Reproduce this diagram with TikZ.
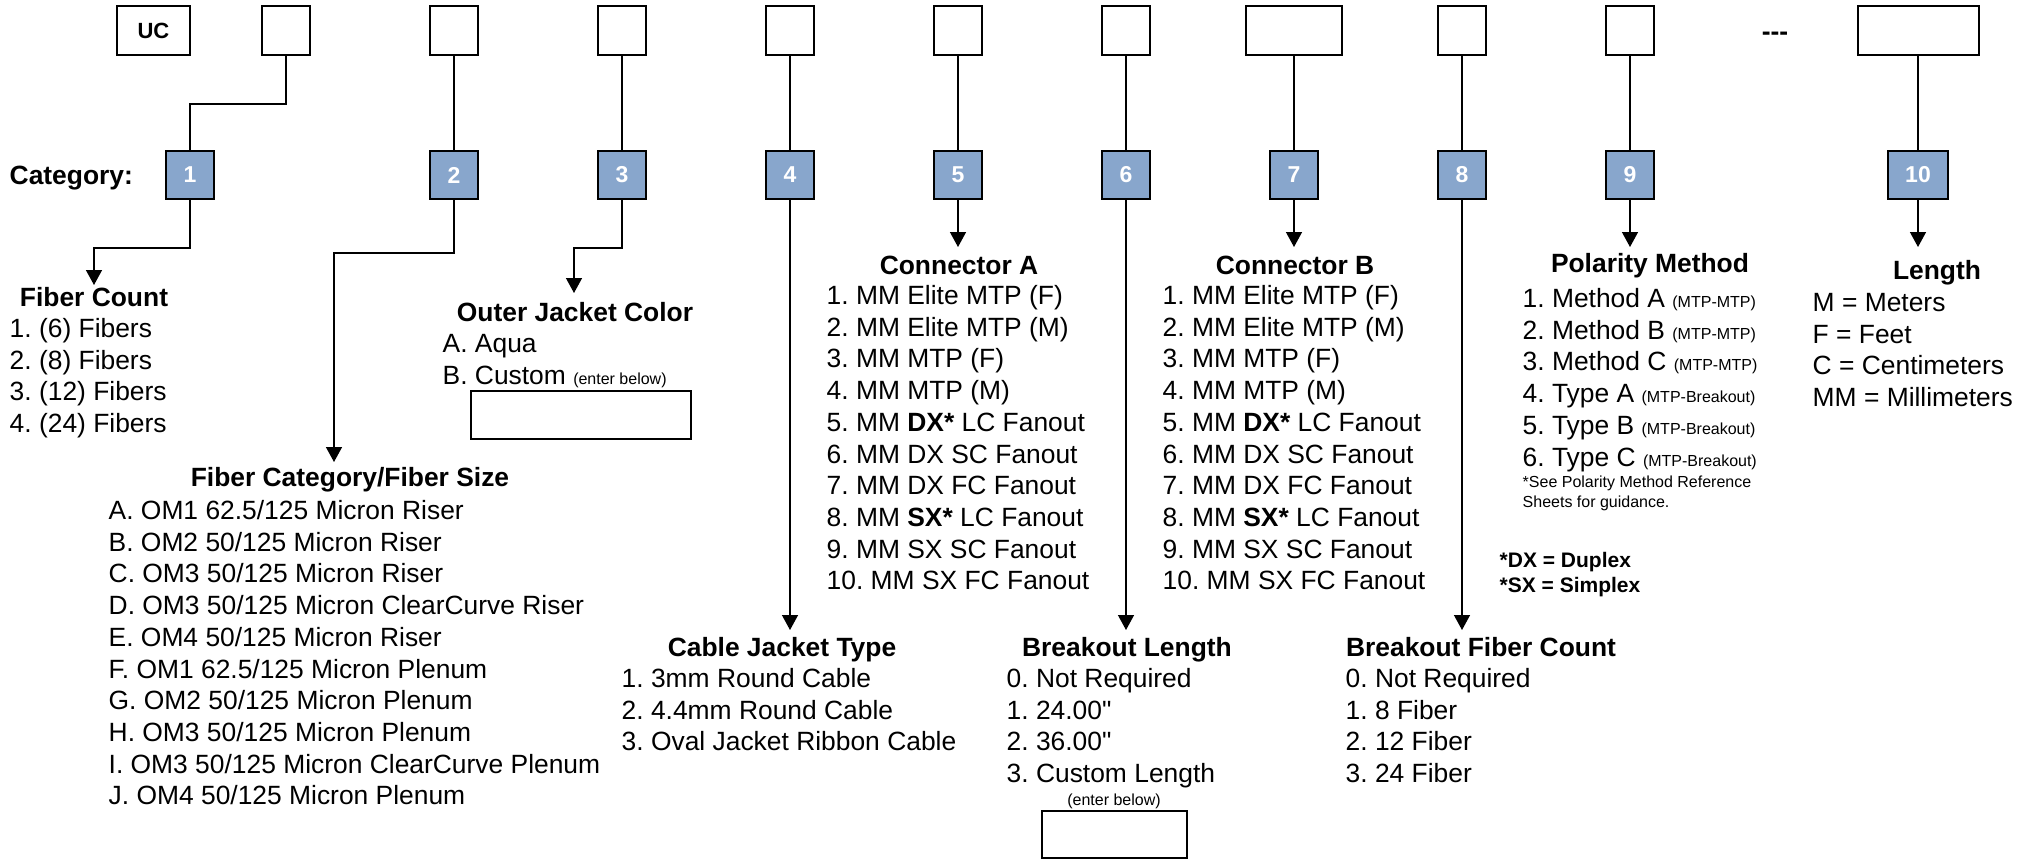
\documentclass[tikz,border=0pt]{standalone}
\usepackage{fontspec}
\setmainfont{Liberation Sans}
\setmonofont{Liberation Sans}
\usetikzlibrary{arrows.meta}
\definecolor{catblue}{RGB}{136,166,204}
\frenchspacing
\tikzset{every picture/.style={line width=0.7pt}}
\tikzset{
  slot/.style={draw,line width=1pt,inner sep=0pt,minimum width=24pt,minimum height=24.5pt},
  cat/.style={slot,fill=catblue,minimum height=24pt,text=white,font=\fontsize{11.5}{13}\selectfont\bfseries},
  head/.style={inner sep=0pt,text height=9.5pt,text depth=0pt,font=\fontsize{13.2}{16}\selectfont\bfseries},
  item/.style={anchor=west,inner sep=0pt,text height=9.5pt,text depth=0pt,font=\fontsize{13.2}{16}\selectfont},
  note/.style={anchor=west,inner sep=0pt,text height=5.7pt,text depth=0pt,font=\fontsize{8}{10}\selectfont},
  abbr/.style={anchor=west,inner sep=0pt,text height=7.5pt,text depth=0pt,font=\fontsize{10.5}{12}\selectfont\bfseries},
  entry/.style={draw,line width=1pt,inner sep=0pt},
}
\newcommand{\sm}[1]{{\fontsize{8}{10}\selectfont #1}}
\newcommand{\inch}{{\ttfamily"}}

\begin{document}
\begin{tikzpicture}[x=0.5pt,y=-0.5pt,>={Triangle[width=8pt,length=7.5pt]}]
\useasboundingbox (0,0) rectangle (2026,859);

% part number slots
\node[slot,minimum width=36.5pt,font=\fontsize{11}{13}\selectfont\bfseries] (uc) at (153.5,30.5) {UC};
\foreach \i/\x in {1/286,2/454,3/622,4/790,5/958,6/1126,8/1462,9/1630}
  \node[slot] (t\i) at (\x,30.5) {};
\node[slot,minimum width=48pt] (t7) at (1294,30.5) {};
\node[head] (dash) at (1775,31) {-{}-{}-};
\node[slot,minimum width=60.5pt] (t10) at (1918,30.5) {};

% category boxes
\node[head,anchor=west] (catlbl) at (9,175) {Category:};
\node[cat] (c1) at (190,175) {1};
\foreach \i/\x in {2/454,3/622,4/790,5/958,6/1126,7/1294,8/1462,9/1630}
  \node[cat] (c\i) at (\x,175) {\i};
\node[cat,minimum width=30pt] (c10) at (1918,175) {10};

\draw (t1.south) -- ++(0,48) -| (c1.north);
\foreach \i in {2,...,10}
  \draw (t\i) -- (c\i);

% arrow ends
\coordinate (e1) at (94,285);
\coordinate (e2) at (334,462);
\coordinate (e3) at (574,293);
\coordinate (e4) at (790,630);
\coordinate (e5) at (958,247);
\coordinate (e6) at (1126,630);
\coordinate (e7) at (1294,247);
\coordinate (e8) at (1462,630);
\coordinate (e9) at (1630,247);
\coordinate (e10) at (1918,247);

\draw[->] (c1.south) -- ++(0,48) -| (e1);
\draw[->] (c2.south) -- ++(0,53) -| (e2);
\draw[->] (c3.south) -- ++(0,48) -| (e3);
\foreach \i in {4,...,10}
  \draw[->] (c\i) -- (e\i);

% 1
\node[head] (fc) at (94,297) {Fiber Count};
\foreach \txt [count=\k] in {{1. (6) Fibers},{2. (8) Fibers},{3. (12) Fibers},{4. (24) Fibers}}
  \node[item] (fc\k) at (9,296.3+31.7*\k) {\txt};

% 2
\node[head] (fs) at (350,477) {Fiber Category/Fiber Size};
\foreach \txt [count=\k] in {{A. OM1 62.5/125 Micron Riser},{B. OM2 50/125 Micron Riser},
    {C. OM3 50/125 Micron Riser},{D. OM3 50/125 Micron ClearCurve Riser},
    {E. OM4 50/125 Micron Riser},{F. OM1 62.5/125 Micron Plenum},
    {G. OM2 50/125 Micron Plenum},{H. OM3 50/125 Micron Plenum},
    {I. OM3 50/125 Micron ClearCurve Plenum},{J. OM4 50/125 Micron Plenum}}
  \node[item] (fs\k) at (108,478.3+31.7*\k) {\txt};

% 3
\node[head] (oj) at (575,312) {Outer Jacket Color};
\node[item] (oj1) at (442,343) {A. Aqua};
\node[item] (oj2) at (442,375) {B. Custom \sm{(enter below)}};
\node[entry,minimum width=110pt,minimum height=24pt] (ojbox) at (581,415) {};

% 4
\node[head] (cj) at (782,647) {Cable Jacket Type};
\foreach \txt [count=\k] in {{1. 3mm Round Cable},{2. 4.4mm Round Cable},{3. Oval Jacket Ribbon Cable}}
  \node[item] (cj\k) at (621,646.3+31.7*\k) {\txt};

% 5 and 7
\node[head] (ca) at (959,265) {Connector A};
\node[head] (cb) at (1295,265) {Connector B};
\foreach \x/\n in {826/ca,1162/cb}
  \foreach \txt [count=\k] in {{1. MM Elite MTP (F)},{2. MM Elite MTP (M)},{3. MM MTP (F)},
      {4. MM MTP (M)},{5. MM \textbf{DX*} LC Fanout},{6. MM DX SC Fanout},
      {7. MM DX FC Fanout},{8. MM \textbf{SX*} LC Fanout},{9. MM SX SC Fanout},
      {10. MM SX FC Fanout}}
    \node[item] (\n\k) at (\x,263.3+31.7*\k) {\txt};

% 6
\node[head] (bl) at (1127,647) {Breakout Length};
\foreach \txt [count=\k] in {{0. Not Required},{1. 24.00\inch},{2. 36.00\inch},{3. Custom Length}}
  \node[item] (bl\k) at (1006,646.3+31.7*\k) {\txt};
\node[note,anchor=center] (blnote) at (1114,800) {(enter below)};
\node[entry,minimum width=72.75pt,minimum height=23.5pt] (blbox) at (1114.25,834.5) {};

% 8
\node[head] (bf) at (1481,647) {Breakout Fiber Count};
\foreach \txt [count=\k] in {{0. Not Required},{1. 8 Fiber},{2. 12 Fiber},{3. 24 Fiber}}
  \node[item] (bf\k) at (1345,646.3+31.7*\k) {\txt};
\node[abbr] (dx) at (1499,560) {*DX = Duplex};
\node[abbr] (sx) at (1499,585) {*SX = Simplex};

% 9
\node[head] (pm) at (1650,263) {Polarity Method};
\foreach \txt [count=\k] in {{1. Method A \sm{(MTP-MTP)}},{2. Method B \sm{(MTP-MTP)}},
    {3. Method C \sm{(MTP-MTP)}},{4. Type A \sm{(MTP-Breakout)}},
    {5. Type B \sm{(MTP-Breakout)}},{6. Type C \sm{(MTP-Breakout)}}}
  \node[item] (pm\k) at (1522,266.3+31.7*\k) {\txt};
\node[note] (pmn1) at (1522,482) {*See Polarity Method Reference};
\node[note] (pmn2) at (1522,502) {Sheets for guidance.};

% 10
\node[head] (ln) at (1937,270) {Length};
\foreach \txt [count=\k] in {{M = Meters},{F = Feet},{C = Centimeters},{MM = Millimeters}}
  \node[item] (ln\k) at (1812,270.3+31.7*\k) {\txt};
\end{tikzpicture}
\end{document}
